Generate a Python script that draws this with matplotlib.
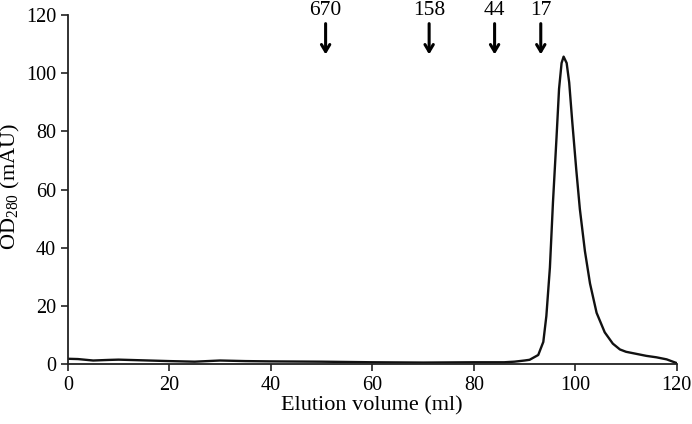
import matplotlib
matplotlib.use("Agg")
import matplotlib.pyplot as plt

volume = [0, 2, 5, 8, 10, 14, 18, 20, 25, 30, 35, 40, 50, 60, 70, 80, 86, 88, 90, 91.0,
          92.7, 93.7, 94.3, 95.0, 95.6, 96.3, 96.8, 97.3, 97.7, 98.3, 98.8, 99.4, 100.2,
          100.9, 101.9, 102.9, 104.2, 105.8, 107.4, 108.8, 110, 112, 114, 116, 118, 120]
od280 = [1.8, 1.7, 1.2, 1.4, 1.5, 1.3, 1.1, 1.0, 0.8, 1.2, 1.0, 0.9, 0.8, 0.6, 0.5, 0.6, 0.6, 0.8, 1.2, 1.45,
         3.1, 7.6, 16.5, 33.2, 55.5, 77.8, 94.6, 103.5, 105.7, 103.5, 96.8, 83.4, 66.7,
         53.3, 38.8, 27.7, 17.6, 10.9, 7.0, 5.0, 4.2, 3.5, 2.8, 2.3, 1.6, 0.3]

marker_labels = ["670", "158", "44", "17"]
marker_volumes = [50.8, 71.2, 84.1, 93.2]

plt.rcParams['font.family'] = ['Liberation Serif', 'DejaVu Serif']
plt.rcParams['mathtext.fontset'] = 'custom'
plt.rcParams['mathtext.rm'] = 'Liberation Serif'
plt.rcParams['mathtext.it'] = 'Liberation Serif:italic'

fig = plt.figure(figsize=(6.92, 4.24), dpi=100)
ax = fig.add_axes([0.098, 0.1415, 0.88, 0.823])
ax.plot(volume, od280, color='#111111', lw=1.7, solid_joinstyle='round')
ax.set_xlim(0, 120)
ax.set_ylim(0, 120)
ax.set_xticks(range(0, 121, 20))
ax.set_yticks(range(0, 121, 20))
ax.spines['top'].set_visible(False)
ax.spines['right'].set_visible(False)
for s in ['left', 'bottom']:
    ax.spines[s].set_linewidth(1.3)
    ax.spines[s].set_color('#222222')
ax.tick_params(direction='out', length=5, width=1.2, labelsize=14.5, color='#222222')
ax.set_xlabel('Elution volume (ml)', fontsize=16, labelpad=1)
ax.set_ylabel('OD$_{280}$ (mAU)', fontsize=16)
ax.yaxis.set_label_coords(-0.075, 0.51)

for lab, v in zip(marker_labels, marker_volumes):
    ax.annotate('', xy=(v, 105.5), xytext=(v, 118),
                arrowprops=dict(arrowstyle='->,head_length=0.5,head_width=0.3', lw=2.2, color='black'),
                annotation_clip=False)
    ax.text(v, 121.5, lab, ha='center', va='center', fontsize=15.5, clip_on=False)

fig.savefig('out.png', dpi=100)
